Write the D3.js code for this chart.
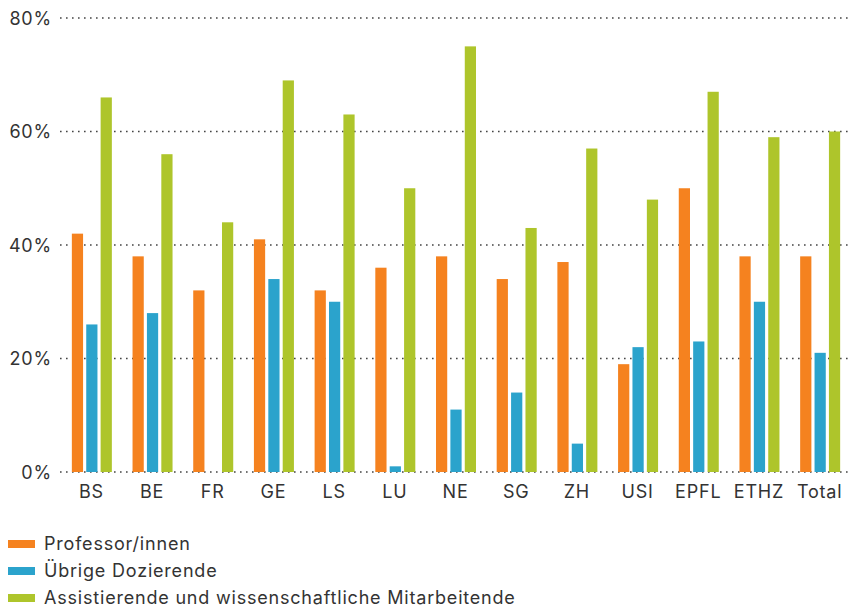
<!DOCTYPE html>
<html><head><meta charset="utf-8">
<script src="https://cdn.jsdelivr.net/npm/d3@7"></script>
<style>body{margin:0;background:#fff;} svg{display:block;} text{font-family:Inter,"Noto Sans",sans-serif;fill:#333;letter-spacing:0.8px;}</style>
</head><body><svg id="c" width="849" height="612"></svg>
<script>
const categories = ["BS","BE","FR","GE","LS","LU","NE","SG","ZH","USI","EPFL","ETHZ","Total"];
const seriesNames = ["Professor/innen","Übrige Dozierende","Assistierende und wissenschaftliche Mitarbeitende"];
const professoren = [42,38,32,41,32,36,38,34,37,19,50,38,38];
const dozierende  = [26,28,0,34,30,1,11,14,5,22,23,30,21];
const assistierende = [66,56,44,69,63,50,75,43,57,48,67,59,60];
const yTicks = [0,20,40,60,80];
const colors = ["#f5821f","#2ba3cc","#aec52b"];

const series = [professoren, dozierende, assistierende];
const FONT = 18;
const svg = d3.select("#c");
const x = d3.scaleBand().domain(categories).range([61, 850]).paddingInner(0).paddingOuter(0);
const y = d3.scaleLinear().domain([0,80]).range([472, 18]);
const xs = d3.scaleBand().domain([0,1,2]).range([0, 40]).paddingInner(0.22);
const groupOffset = x.bandwidth()/2 - 19.5;

// gridlines
const grid = svg.append("g");
grid.selectAll("line").data(yTicks).join("line")
  .attr("x1", 60).attr("x2", 849)
  .attr("y1", d=>y(d)).attr("y2", d=>y(d))
  .attr("stroke","#444").attr("stroke-width",1.6)
  .attr("stroke-dasharray","1.6,4.4").attr("stroke-linecap","butt");

// y axis labels
const yAxis = d3.axisLeft(y).tickValues(yTicks).tickFormat(d=>d+"%").tickSize(0).tickPadding(0);
const ya = svg.append("g").attr("transform","translate(52,0)").call(yAxis);
ya.select(".domain").remove();
ya.selectAll("text").attr("font-size",FONT).attr("dy","0.35em").style("font-family","Inter,sans-serif").attr("fill","#333");

// bars
const groups = svg.append("g").selectAll("g").data(categories).join("g")
  .attr("transform", c=>`translate(${x(c)+groupOffset},0)`);
groups.selectAll("rect").data((c,i)=>series.map((s,k)=>({k, v:s[i]}))).join("rect")
  .attr("x", d=>xs(d.k)).attr("width", xs.bandwidth())
  .attr("y", d=>y(d.v)).attr("height", d=>y(0)-y(d.v))
  .attr("fill", d=>colors[d.k]);

// x axis labels
const xAxis = d3.axisBottom(x).tickSize(0).tickPadding(0);
const xa = svg.append("g").attr("transform","translate(0,485)").call(xAxis);
xa.select(".domain").remove();
xa.selectAll("text").attr("font-size",FONT).attr("dy","0.71em").style("font-family","Inter,sans-serif").attr("fill","#333");

// legend
const leg = svg.append("g").selectAll("g").data(seriesNames).join("g")
  .attr("transform",(d,i)=>`translate(8,${544+i*27})`);
leg.append("rect").attr("x",0).attr("y",-4).attr("width",27).attr("height",8).attr("fill",(d,i)=>colors[i]);
leg.append("text").attr("x",36).attr("y",0).attr("dy","0.35em").attr("font-size",FONT).text(d=>d);
</script></body></html>
